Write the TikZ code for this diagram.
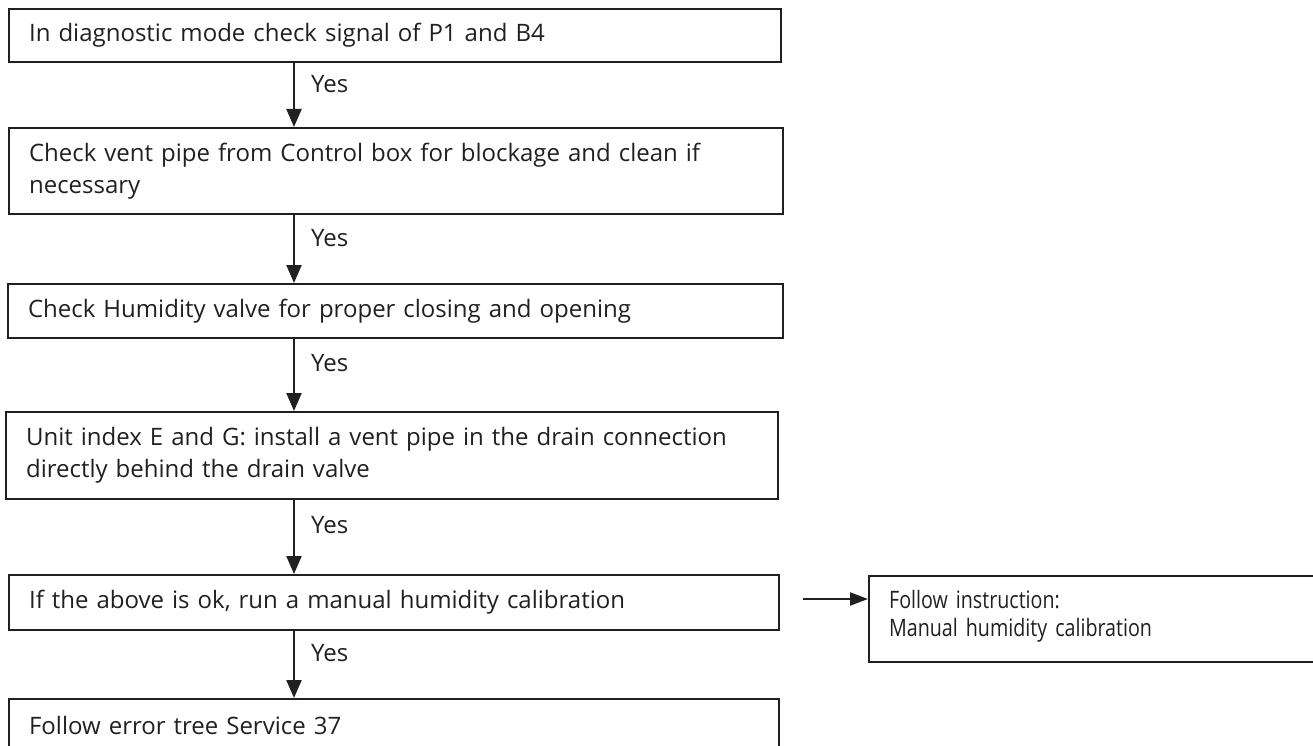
\documentclass[tikz,border=0pt]{standalone}
\usepackage{fontspec}
\setmainfont{Open Sans}
\newfontfamily\narrowfont[FakeStretch=0.82]{Open Sans}
\usetikzlibrary{arrows.meta}
\definecolor{ink}{HTML}{231F20}
\begin{document}
\begin{tikzpicture}[x=1pt,y=-1pt,
  stepbox/.style={draw=ink, line width=2.2pt, rectangle, anchor=north west,
    inner xsep=20pt, inner ysep=0pt, align=left, text=ink,
    font=\fontsize{24}{32}\selectfont},
  flow/.style={draw=ink, line width=2.2pt, -{Triangle[length=18pt,width=15pt]}},
  yes/.style={anchor=west, inner sep=0pt, xshift=16pt, pos=0.33, text=ink,
    font=\fontsize{24}{32}\selectfont}]
  \useasboundingbox (0,0) rectangle (1313,746);
  \clip (0,0) rectangle (1313,746);

  % main column of checks
  \node[stepbox, text width=732pt, minimum height=53pt] (b1) at (8,8)
    {In diagnostic mode check signal of P1 and B4};
  \node[stepbox, text width=734pt, minimum height=86pt] (b2) at (8,127)
    {Check vent pipe from Control box for blockage and clean if\\necessary};
  \node[stepbox, text width=735pt, minimum height=54pt] (b3) at (7,283)
    {Check Humidity valve for proper closing and opening};
  \node[stepbox, text width=732pt, minimum height=87pt] (b4) at (5,411)
    {Unit index E and G: install a vent pipe in the drain connection\\directly behind the drain valve};
  \node[stepbox, text width=730pt, minimum height=55pt] (b5) at (8,574)
    {If the above is ok, run a manual humidity calibration};
  \node[stepbox, text width=730pt, minimum height=52pt] (b6) at (8,698)
    {Follow error tree Service 37};

  % side instruction, narrower type set towards the top of its box
  \node[stepbox, text width=412pt, minimum height=86pt, text depth=39pt,
    font=\narrowfont\fontsize{24}{28}\selectfont] (b7) at (868,575)
    {Follow instruction:\\Manual humidity calibration};

  % vertical "Yes" arrows
  \coordinate (ax) at (294,0);
  \draw[flow] (b1.south -| ax) -- node[yes] {Yes} (b2.north -| ax);
  \draw[flow] (b2.south -| ax) -- node[yes] {Yes} (b3.north -| ax);
  \draw[flow] (b3.south -| ax) -- node[yes] {Yes} (b4.north -| ax);
  \draw[flow] (b4.south -| ax) -- node[yes] {Yes} (b5.north -| ax);
  \draw[flow] (b5.south -| ax) -- node[yes] {Yes} (b6.north -| ax);

  % arrow to the side instruction
  \coordinate (r0) at (803,599);
  \draw[flow, -{Triangle[length=18pt,width=13pt]}] (r0) -- (r0 -| b7.west);
\end{tikzpicture}
\end{document}
